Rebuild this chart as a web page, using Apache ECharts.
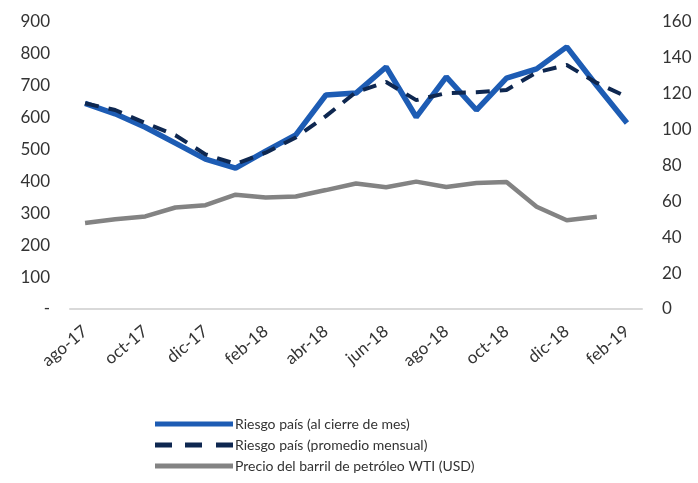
<!DOCTYPE html>
<html>
<head>
<meta charset="utf-8">
<script src="https://cdn.jsdelivr.net/npm/echarts@6/dist/echarts.min.js"></script>
<style>
  html, body { margin: 0; padding: 0; background: #fff; }
  #chart { width: 698px; height: 483px; }
</style>
</head>
<body>
<div id="chart"></div>
<script>
var months = ["ago-17", "sep-17", "oct-17", "nov-17", "dic-17", "ene-18", "feb-18", "mar-18", "abr-18", "may-18",
  "jun-18", "jul-18", "ago-18", "sep-18", "oct-18", "nov-18", "dic-18", "ene-19", "feb-19"];
var riesgoCierre = [645, 612, 570, 520, 470, 442, 495, 546, 671, 677, 759, 602, 728, 624, 724, 753, 822, 700, 583];
var riesgoPromedio = [645, 624, 583, 545, 485, 455, 490, 538, 605, 680, 712, 655, 677, 680, 687, 742, 765, 709, 665];
var petroleoWTI = [48, 50, 51.6, 56.6, 57.9, 63.7, 62.2, 62.7, 66.3, 70, 67.9, 71, 68, 70.2, 70.8, 57, 49.5, 51.4];

var chart = echarts.init(document.getElementById("chart"));
var font = "Lato";
var textColor = "#333333";

var solidIcon = "path://M0,0h78v5h-78z";
var dashIcon = "path://M0,0h17v5h-17z M30,0h17v5h-17z M61,0h17v5h-17z";

var option = {
  backgroundColor: "#fff",
  animation: false,
  grid: { left: 70, right: 56, top: 22, bottom: 174 },
  legend: {
    orient: "vertical",
    left: 150,
    top: 412,
    itemWidth: 78,
    itemHeight: 5,
    itemGap: 7,
    textStyle: { fontFamily: font, fontSize: 14, color: textColor, padding: [0, 0, 0, -3] },
    data: [
      { name: "Riesgo país (al cierre de mes)", icon: solidIcon },
      { name: "Riesgo país (promedio mensual)", icon: dashIcon },
      { name: "Precio del barril de petróleo WTI (USD)", icon: solidIcon }
    ]
  },
  xAxis: {
    type: "category",
    data: months,
    boundaryGap: true,
    axisLine: { lineStyle: { color: "#d9d9d9", width: 2 } },
    axisTick: { show: false },
    axisLabel: { interval: 1, rotate: 40, fontFamily: font, fontSize: 17, color: textColor, margin: 20 }
  },
  yAxis: [
    {
      type: "value", min: 0, max: 900, interval: 100,
      splitLine: { show: false },
      axisLine: { show: false }, axisTick: { show: false },
      axisLabel: {
        fontFamily: font, fontSize: 17, color: textColor, margin: 20,
        formatter: function (v) { return v === 0 ? "-" : v; }
      }
    },
    {
      type: "value", min: 0, max: 160, interval: 20,
      splitLine: { show: false },
      axisLine: { show: false }, axisTick: { show: false },
      axisLabel: { fontFamily: font, fontSize: 17, color: textColor, margin: 20 }
    }
  ],
  series: [
    {
      name: "Precio del barril de petróleo WTI (USD)",
      type: "line", yAxisIndex: 1, data: petroleoWTI,
      symbol: "none",
      lineStyle: { color: "#838383", width: 4.5 },
      itemStyle: { color: "#838383" },
      z: 1
    },
    {
      name: "Riesgo país (al cierre de mes)",
      type: "line", yAxisIndex: 0, data: riesgoCierre,
      symbol: "none",
      lineStyle: { color: "#1d5cb4", width: 5.5 },
      itemStyle: { color: "#1d5cb4" },
      z: 2
    },
    {
      name: "Riesgo país (promedio mensual)",
      type: "line", yAxisIndex: 0, data: riesgoPromedio,
      symbol: "none",
      lineStyle: { color: "#0e2750", width: 4, type: [14, 10] },
      itemStyle: { color: "#0e2750" },
      z: 3
    }
  ]
};

chart.setOption(option);
</script>
</body>
</html>
